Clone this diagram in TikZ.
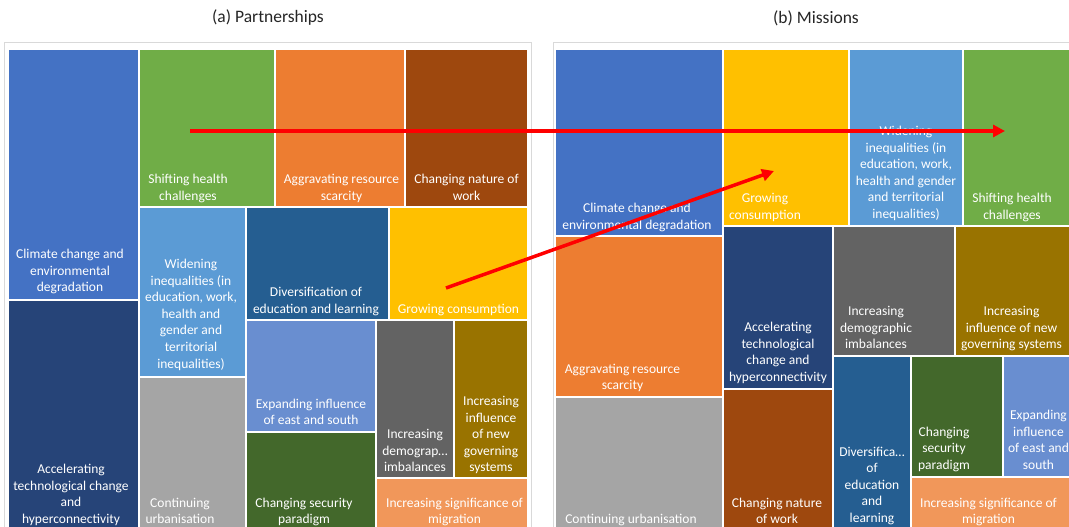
\documentclass[tikz,border=0pt]{standalone}
\usepackage{fontspec}
\setmainfont{Carlito}
\usetikzlibrary{arrows.meta}
\definecolor{cBlue}{HTML}{4472C4}
\definecolor{cNavy}{HTML}{264478}
\definecolor{cGreen}{HTML}{70AD47}
\definecolor{cOrange}{HTML}{ED7D31}
\definecolor{cBrown}{HTML}{9E480E}
\definecolor{cSky}{HTML}{5B9BD5}
\definecolor{cGray}{HTML}{A5A5A5}
\definecolor{cSea}{HTML}{255E91}
\definecolor{cGold}{HTML}{FFC000}
\definecolor{cPeri}{HTML}{698ED0}
\definecolor{cForest}{HTML}{43682B}
\definecolor{cSlate}{HTML}{636363}
\definecolor{cOlive}{HTML}{997300}
\definecolor{cPeach}{HTML}{F1975A}
\definecolor{cFrame}{HTML}{D9D9D9}

\begin{document}
\begin{tikzpicture}[x=1pt,y=-1pt]
    \tikzstyle{tile}=[draw=white, line width=2pt]
    \tikzstyle{lbl}=[text=white, align=center, anchor=north, inner sep=0pt, yshift=-1.5pt, font=\fontsize{13.5}{16.6}\selectfont]
    \tikzstyle{title}=[text=black!85, inner sep=0pt, font=\fontsize{17.5}{20}\selectfont]
    \tikzstyle{link}=[red, line width=3.5pt, -{Triangle[length=12pt,width=12pt]}]
    \fill[white] (0,0) rectangle (1069,527);
    \clip (0,0) rectangle (1069,527);
    % titles
    \node[title] (ta) at (268,18) {(a) Partnerships};
    \node[title] (tb) at (816,18) {(b) Missions};
    % frames
    \draw[cFrame, line width=1pt] (4,43) rectangle (531,545);
    \draw[cFrame, line width=1pt] (553,43) rectangle (1100,545);
    % (a) Partnerships
    \path[tile, fill=cBlue] (8,49) rectangle (139,300);
    \path[tile, fill=cNavy] (8,300) rectangle (139,535);
    \path[tile, fill=cGreen] (139,49) rectangle (275,207);
    \path[tile, fill=cOrange] (275,49) rectangle (405,207);
    \path[tile, fill=cBrown] (405,49) rectangle (528,207);
    \path[tile, fill=cSky] (139,207) rectangle (246,377);
    \path[tile, fill=cGray] (139,377) rectangle (246,535);
    \path[tile, fill=cSea] (246,207) rectangle (389,320);
    \path[tile, fill=cGold] (389,207) rectangle (528,320);
    \path[tile, fill=cPeri] (246,320) rectangle (376,432);
    \path[tile, fill=cForest] (246,432) rectangle (376,535);
    \path[tile, fill=cSlate] (376,320) rectangle (454,478);
    \path[tile, fill=cOlive] (454,320) rectangle (528,478);
    \path[tile, fill=cPeach] (376,478) rectangle (528,535);
    \node[lbl] (aClimate) at (70,247.5) {Climate change and\\environmental\\degradation};
    \node[lbl] (aTech) at (71,462.5) {Accelerating\\technological change\\and\\hyperconnectivity};
    \node[lbl] (aHealth) at (188,172.5) {Shifting health\\challenges};
    \node[lbl] (aResource) at (341.5,172.5) {Aggravating resource\\scarcity};
    \node[lbl] (aWork) at (466.5,172.5) {Changing nature of\\work};
    \node[lbl] (aInequal) at (191,257.5) {Widening\\inequalities (in\\education, work,\\health and\\gender and\\territorial\\inequalities)};
    \node[lbl] (aUrban) at (180,496) {Continuing\\urbanisation};
    \node[lbl] (aEducation) at (316,285.5) {Diversification of\\education and learning};
    \node[lbl] (aConsume) at (458.5,302.5) {Growing consumption};
    \node[lbl] (aEast) at (311,397) {Expanding influence\\of east and south};
    \node[lbl] (aSecurity) at (304,496) {Changing security\\paradigm};
    \node[lbl] (aDemo) at (415,427.5) {Increasing\\demograp…\\imbalances};
    \node[lbl] (aGovern) at (491,394.5) {Increasing\\influence\\of new\\governing\\systems};
    \node[lbl] (aMigration) at (454.5,496) {Increasing significance of\\migration};
    % (b) Missions
    \path[tile, fill=cBlue] (555,49) rectangle (722.5,236);
    \path[tile, fill=cOrange] (555,236) rectangle (722.5,397);
    \path[tile, fill=cGray] (555,397) rectangle (722.5,535);
    \path[tile, fill=cGold] (722.5,49) rectangle (849,226);
    \path[tile, fill=cSky] (849,49) rectangle (963,226);
    \path[tile, fill=cGreen] (963,49) rectangle (1090,226);
    \path[tile, fill=cNavy] (722.5,226) rectangle (833,389);
    \path[tile, fill=cBrown] (722.5,389) rectangle (833,535);
    \path[tile, fill=cSlate] (833,226) rectangle (954.5,356);
    \path[tile, fill=cOlive] (954.5,226) rectangle (1090,356);
    \path[tile, fill=cSea] (833,356) rectangle (910.5,535);
    \path[tile, fill=cForest] (910.5,356) rectangle (1003,477);
    \path[tile, fill=cPeri] (1003,356) rectangle (1090,477);
    \path[tile, fill=cPeach] (910.5,477) rectangle (1090,535);
    \node[lbl] (bClimate) at (637,201.5) {Climate change and\\environmental degradation};
    \node[lbl] (bConsume) at (765,191.5) {Growing\\consumption};
    \node[lbl] (bInequal) at (906,124.5) {Widening\\inequalities (in\\education, work,\\health and gender\\and territorial\\inequalities)};
    \node[lbl] (bHealth) at (1012,191.5) {Shifting health\\challenges};
    \node[lbl] (bResource) at (622.5,362) {Aggravating resource\\scarcity};
    \node[lbl] (bUrban) at (631,512) {Continuing urbanisation};
    \node[lbl] (bTech) at (778,320.5) {Accelerating\\technological\\change and\\hyperconnectivity};
    \node[lbl] (bWork) at (777,496) {Changing nature\\of work};
    \node[lbl] (bDemo) at (876,304.5) {Increasing\\demographic\\imbalances};
    \node[lbl] (bGovern) at (1011.5,304.5) {Increasing\\influence of new\\governing systems};
    \node[lbl] (bEducation) at (872,445) {Diversifica…\\of\\education\\and\\learning};
    \node[lbl] (bSecurity) at (944,425) {Changing\\security\\paradigm};
    \node[lbl] (bEast) at (1038.5,408.5) {Expanding\\influence\\of east and\\south};
    \node[lbl] (bMigration) at (988.5,496) {Increasing significance of\\migration};
    % shifts between the two rankings
    \coordinate (hsA) at (190,131);
    \coordinate (hsB) at (1005,131);
    \coordinate (gcA) at (446,288);
    \coordinate (gcB) at (774,171);
    \draw[link] (hsA) -- (hsB);
    \draw[link] (gcA) -- (gcB);
\end{tikzpicture}
\end{document}
